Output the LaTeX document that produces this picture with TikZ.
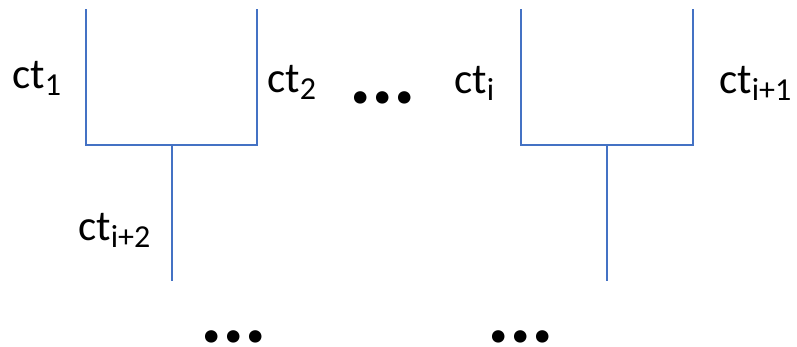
\documentclass[tikz,border=0pt]{standalone}
\usepackage{fontspec}
\setmainfont{Carlito}
\definecolor{linkblue}{RGB}{68,114,196}
\newcommand{\ctlab}[1]{ct\raisebox{-7pt}{\fontsize{32}{32}\selectfont #1}}
\newcommand{\gapdots}{.\kern-0.6pt.\kern-0.6pt.}
\begin{document}
\begin{tikzpicture}[x=1pt,y=-1pt,
  link/.style={draw=linkblue,line width=1.3pt},
  lab/.style={anchor=base west,inner sep=0pt,font=\fontsize{43}{50}\selectfont},
  gap/.style={anchor=base,inner sep=0pt,font=\fontsize{84}{84}\selectfont\bfseries}]
\useasboundingbox (0,0) rectangle (797,346);
% left merge: two inputs join and feed one output
\coordinate (a1) at (86,9);
\coordinate (a2) at (257,9);
\coordinate (ab1) at (86,145);
\coordinate (ab2) at (257,145);
\coordinate (am) at (172,145);
\coordinate (ao) at (172,281);
\draw[link] (a1) -- (ab1) -- (ab2) -- (a2);
\draw[link] (am) -- (ao);
% right merge
\coordinate (b1) at (521,9);
\coordinate (b2) at (693,9);
\coordinate (bb1) at (521,145);
\coordinate (bb2) at (693,145);
\coordinate (bm) at (607,145);
\coordinate (bo) at (607,281);
\draw[link] (b1) -- (bb1) -- (bb2) -- (b2);
\draw[link] (bm) -- (bo);
% labels
\node[lab] (l1) at (12,88) {\ctlab{1}};
\node[lab] (l2) at (267,92) {\ctlab{2}};
\node[lab] (li) at (454,93) {\ctlab{i}};
\node[lab] (li1) at (719,93) {\ctlab{i+1}};
\node[lab] (li2) at (78,240) {\ctlab{i+2}};
% ellipses
\node[gap] (d1) at (382.5,103.5) {\gapdots};
\node[gap] (d2) at (233.5,342) {\gapdots};
\node[gap] (d3) at (520.7,342) {\gapdots};
\end{tikzpicture}
\end{document}
